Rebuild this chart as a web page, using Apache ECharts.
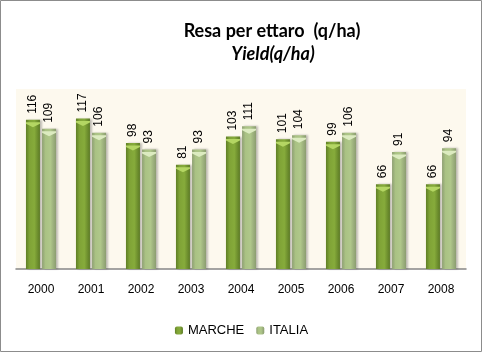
<!DOCTYPE html>
<html><head><meta charset="utf-8">
<script src="https://cdn.jsdelivr.net/npm/echarts@6/dist/echarts.min.js"></script>
<style>html,body{margin:0;padding:0;background:#fff}#c{width:483px;height:353px}</style>
</head><body><div id="c"></div>
<script>
const years = ['2000','2001','2002','2003','2004','2005','2006','2007','2008'];
const marche = [116,117,98,81,103,101,99,66,66];
const italia = [109,106,93,93,111,104,106,91,94];
const seriesNames = ['MARCHE','ITALIA'];

const chart = echarts.init(document.getElementById('c'), null, {renderer:'canvas'});
const g1 = new echarts.graphic.LinearGradient(0,0,1,0,[
  {offset:0,color:'#5f7f26'},{offset:0.25,color:'#7fa336'},{offset:0.6,color:'#86ab3b'},{offset:1,color:'#5c7a25'}]);
const g2 = new echarts.graphic.LinearGradient(0,0,1,0,[
  {offset:0,color:'#8e9f73'},{offset:0.25,color:'#aac284'},{offset:0.6,color:'#afc78a'},{offset:1,color:'#8b9c70'}]);
const lbl = {show:true, position:'top', rotate:90, align:'left', verticalAlign:'middle', distance:6,
  fontSize:12, color:'#000', fontFamily:'Liberation Sans, Arial'};
const cap = 'path://M0,0 L14,0 L14,1.5 L7,5 L0,1.5 Z';
chart.setOption({
  animation:false,
  title:[{text:'Resa per ettaro  (q/ha)', left:267, top:17, textAlign:'center',
    textStyle:{fontFamily:'Lato', fontWeight:'bold', fontSize:18, color:'#000'}},
    {text:'Yield(q/ha)', left:268, top:40, textAlign:'center',
    textStyle:{fontFamily:'Lato', fontWeight:'bold', fontStyle:'italic', fontSize:18, color:'#000'}}],
  graphic:[{type:'rect', shape:{x:0.5,y:0.5,width:481,height:351}, style:{fill:'none', stroke:'#8c8c8c', lineWidth:1}, z:100}],
  legend:{bottom:11, left:'center', itemWidth:8, itemHeight:8, itemGap:12,
    data:seriesNames, textStyle:{fontSize:13, color:'#000', fontFamily:'Liberation Sans, Arial', padding:[0,0,0,0]}},
  grid:{left:16, right:17, top:89, bottom:84, show:true, backgroundColor:'#fdf9ee', borderWidth:0},
  xAxis:{type:'category', data:years, axisTick:{show:false},
    axisLine:{lineStyle:{color:'#868686', width:1.5}},
    axisLabel:{fontSize:12, color:'#000', margin:15, fontFamily:'Liberation Sans, Arial'}},
  yAxis:{type:'value', min:0, max:140, show:false, splitLine:{show:false}},
  series:[
    {name:'MARCHE', type:'bar', data:marche, barWidth:14, barGap:'15%',
      itemStyle:{color:g1, shadowColor:'rgba(0,0,0,0.25)', shadowOffsetX:2, shadowBlur:2}, label:lbl},
    {name:'ITALIA', type:'bar', data:italia, barWidth:14, barGap:'15%',
      itemStyle:{color:g2, shadowColor:'rgba(0,0,0,0.25)', shadowOffsetX:2, shadowBlur:2}, label:lbl},
    {name:'MARCHE', type:'pictorialBar', data:marche, barWidth:14, barGap:'15%', symbol:cap,
      symbolSize:[14,5], symbolPosition:'end', symbolOffset:[0,'50%'], itemStyle:{color:'#b4d663'}, z:5, silent:true},
    {name:'ITALIA', type:'pictorialBar', data:italia, barWidth:14, barGap:'15%', symbol:cap,
      symbolSize:[14,5], symbolPosition:'end', symbolOffset:[0,'50%'], itemStyle:{color:'#dcebc0'}, z:5, silent:true}
  ]
});
</script></body></html>
